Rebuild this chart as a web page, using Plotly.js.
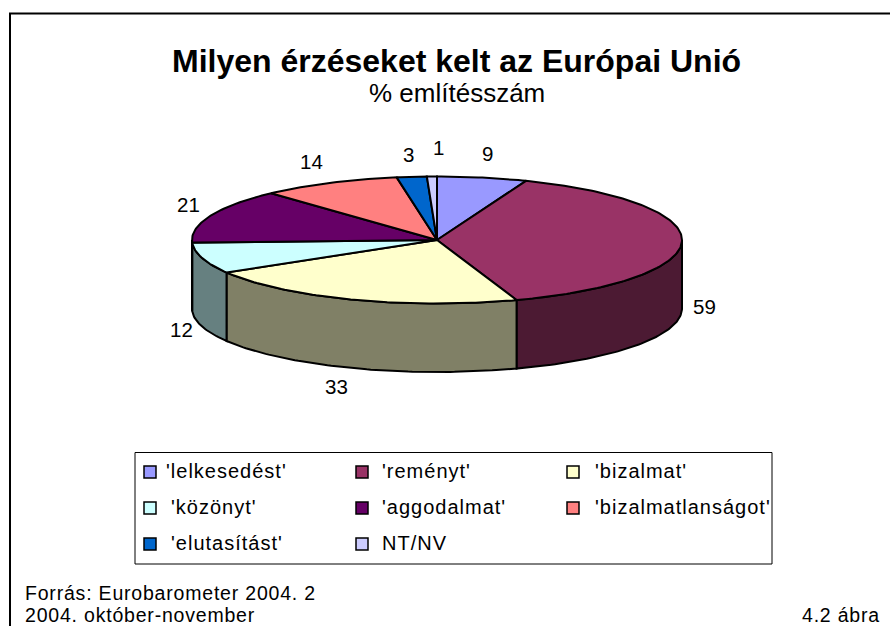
<!DOCTYPE html>
<html><head><meta charset="utf-8">
<script src="https://cdn.plot.ly/plotly-3.0.1.min.js"></script>
<style>html,body{margin:0;padding:0;background:#fff;overflow:hidden}</style></head>
<body><div id="chart" style="width:890px;height:626px"></div>
<script>
var categories = ["'lelkesedést'","'reményt'","'bizalmat'","'közönyt'","'aggodalmat'","'bizalmatlanságot'","'elutasítást'","NT/NV"];
var values = [9,59,33,12,21,14,3,1];
var topColors = ["#9999FF","#993366","#FFFFCC","#CCFFFF","#660066","#FF8080","#0066CC","#CCCCFF"];
var sideColors = ["#4C4C80","#4C1A33","#808066","#668080","#330033","#804040","#003366","#666680"];
var titleText = "Milyen érzéseket kelt az Európai Unió";
var subtitleText = "% említésszám";
var sourceLines = ["Forrás: Eurobarometer 2004. 2","2004. október-november"];
var figureLabel = "4.2 ábra";

// layout geometry (pixels)
var CX=437, CY=240, RX=245, RY=63.5, DEPTH=68.5;
var labelPos=[[487,153],[704,306],[336,386],[181,329],[188,204],[311,161],[408,154],[438,147]];
var legendCols=[[144,165],[356,381],[567,594]];
var legendRows=[472,508,544];

function pt(deg,dy){var r=deg*Math.PI/180;return [CX+RX*Math.sin(r),CY-RY*Math.cos(r)+(dy||0)];}
function arc(a,b,dy){var out=[],n=Math.max(2,Math.ceil(Math.abs(b-a)));for(var i=0;i<=n;i++){out.push(pt(a+(b-a)*i/n,dy));}return out;}
var total=values.reduce(function(s,v){return s+v;},0);
var traces=[],tops=[],cum=0;
var black={color:'#000',width:2};
values.forEach(function(v,i){
  var a=cum/total*360,b=(cum+v)/total*360;cum+=v;
  var lo=Math.max(a,90),hi=Math.min(b,270);
  if(hi>lo){
    var p=arc(lo,hi,0).concat(arc(hi,lo,DEPTH));p.push(p[0]);
    traces.push({type:'scatter',mode:'lines',x:p.map(function(q){return q[0];}),y:p.map(function(q){return q[1];}),
      fill:'toself',fillcolor:sideColors[i],line:black,hoverinfo:'skip',showlegend:false});
  }
  var w=[[CX,CY]].concat(arc(a,b,0));w.push([CX,CY]);
  tops.push({type:'scatter',mode:'lines',name:categories[i],x:w.map(function(q){return q[0];}),y:w.map(function(q){return q[1];}),
    fill:'toself',fillcolor:topColors[i],line:black,hoverinfo:'name+text',text:String(v),showlegend:false});
});
traces=traces.concat(tops);

var font="'Liberation Sans', Arial, sans-serif";
function sp(t,s){return '<span style="letter-spacing:'+s+'px">'+t+'</span>';}
function ann(x,y,t,size,xa){return {x:x,y:y,xref:'x',yref:'y',text:t,showarrow:false,xanchor:xa||'center',yanchor:'middle',
  font:{family:font,size:size,color:'#000'},borderpad:0};}
var annotations=[
  ann(456,61,'<b>'+titleText+'</b>',32),
  ann(457,93,subtitleText,26),
  ann(24,593,sp(sourceLines[0],0.8),19.5,'left'),
  ann(24,615,sp(sourceLines[1],0.8),19.5,'left'),
  ann(881,615,sp(figureLabel,0.8),19.5,'right')
];
values.forEach(function(v,i){annotations.push(ann(labelPos[i][0],labelPos[i][1],String(v),20.5));});
var shapes=[
  {type:'rect',xref:'x',yref:'y',x0:10,x1:900,y0:13.5,y1:640,line:{color:'#000',width:2},fillcolor:'rgba(0,0,0,0)',layer:'below'},
  {type:'rect',xref:'x',yref:'y',x0:135,x1:772,y0:452.5,y1:564,line:{color:'#000',width:1},fillcolor:'#fff',layer:'below'}
];
categories.forEach(function(c,i){
  var col=i%3,row=Math.floor(i/3),y=legendRows[row],kx=legendCols[col][0],tx=legendCols[col][1];
  shapes.push({type:'rect',xref:'x',yref:'y',x0:kx,x1:kx+12,y0:y-6,y1:y+6,line:{color:'#000',width:1.5},fillcolor:topColors[i]});
  if(col===0&&row>0)tx=170;
  annotations.push(ann(tx,y-1,sp(c,1),20,'left'));
});
var axis={visible:false,fixedrange:true,showgrid:false,zeroline:false};
var layout={width:890,height:626,margin:{l:0,r:0,t:0,b:0},paper_bgcolor:'#fff',plot_bgcolor:'#fff',showlegend:false,
  xaxis:Object.assign({range:[0,890],domain:[0,1]},axis),
  yaxis:Object.assign({range:[626,0],domain:[0,1]},axis),
  shapes:shapes,annotations:annotations};
Plotly.newPlot('chart',traces,layout,{displayModeBar:false,responsive:false});
</script></body></html>
